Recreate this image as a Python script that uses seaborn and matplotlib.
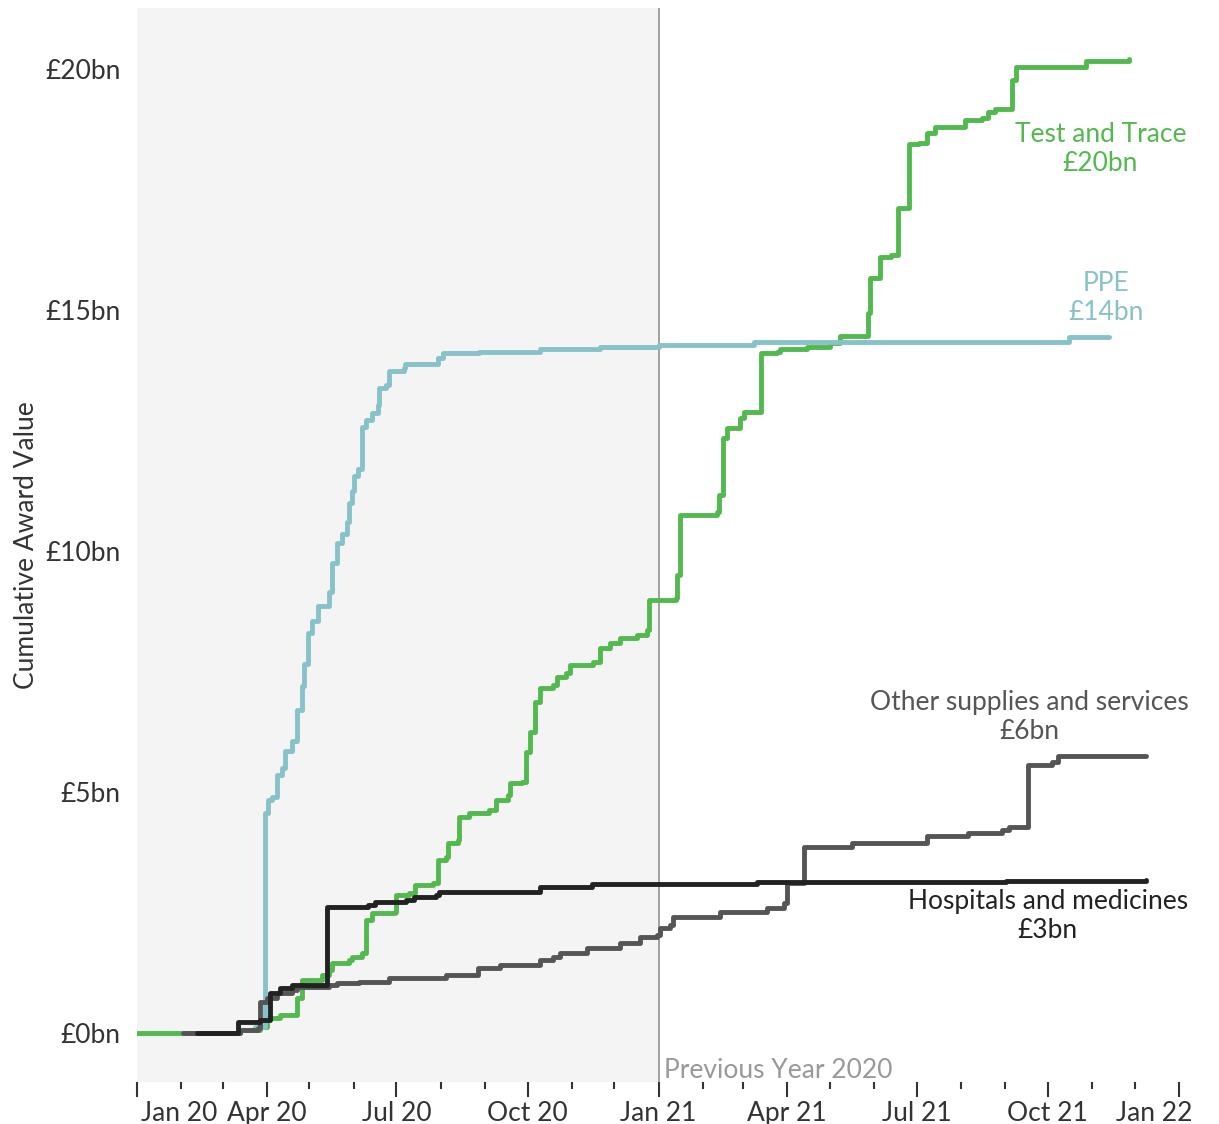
import pandas as pd
import matplotlib
matplotlib.use("Agg")
import matplotlib.pyplot as plt
import matplotlib.dates as mdates
import matplotlib.transforms as mtransforms
import seaborn as sns

# --- datos (fecha de adjudicación, valor acumulado en £bn) ---
tt_dates = ["2020-01-01", "2020-03-13", "2020-03-27", "2020-04-01", "2020-04-10", "2020-04-22",
            "2020-04-26", "2020-05-10", "2020-05-15", "2020-05-17", "2020-05-29", "2020-05-31",
            "2020-06-07", "2020-06-10", "2020-06-14", "2020-06-30", "2020-07-01", "2020-07-10",
            "2020-07-14", "2020-07-27", "2020-07-30", "2020-08-05", "2020-08-06", "2020-08-13",
            "2020-08-14", "2020-08-21", "2020-09-04", "2020-09-09", "2020-09-17", "2020-09-19",
            "2020-09-27", "2020-09-30", "2020-10-03", "2020-10-06", "2020-10-10", "2020-10-19",
            "2020-10-22", "2020-10-28", "2020-10-31", "2020-11-16", "2020-11-21", "2020-11-28",
            "2020-12-05", "2020-12-17", "2020-12-24", "2020-12-25", "2021-01-13", "2021-01-14",
            "2021-01-16", "2021-02-11", "2021-02-12", "2021-02-15", "2021-02-18", "2021-02-27",
            "2021-03-02", "2021-03-14", "2021-03-25", "2021-03-27", "2021-04-15", "2021-05-01",
            "2021-05-08", "2021-05-28", "2021-05-29", "2021-06-05", "2021-06-13", "2021-06-18",
            "2021-06-26", "2021-07-03", "2021-07-08", "2021-07-14", "2021-08-04", "2021-08-16",
            "2021-08-20", "2021-08-25", "2021-09-06", "2021-09-09", "2021-10-28", "2021-11-27"]
tt_values = [0.0, 0.05, 0.12, 0.31, 0.37, 0.73,
             1.10, 1.20, 1.31, 1.45, 1.51, 1.58,
             1.66, 2.34, 2.49, 2.51, 2.86, 2.90,
             3.07, 3.11, 3.59, 3.65, 3.94, 4.00,
             4.48, 4.56, 4.63, 4.83, 4.94, 5.19,
             5.21, 5.83, 6.24, 6.87, 7.16, 7.22,
             7.39, 7.47, 7.63, 7.70, 7.99, 8.09,
             8.20, 8.26, 8.36, 8.98, 9.02, 9.50,
             10.75, 10.81, 11.16, 12.34, 12.55, 12.76,
             12.88, 14.11, 14.13, 14.19, 14.23, 14.32,
             14.46, 14.94, 15.66, 16.10, 16.14, 17.12,
             18.44, 18.46, 18.67, 18.80, 18.94, 18.98,
             19.11, 19.17, 19.77, 20.04, 20.17, 20.21]

ppe_dates = ["2020-02-02", "2020-03-13", "2020-03-24", "2020-03-31", "2020-04-02", "2020-04-05",
             "2020-04-08", "2020-04-12", "2020-04-14", "2020-04-19", "2020-04-22", "2020-04-26",
             "2020-04-27", "2020-04-30", "2020-05-03", "2020-05-07", "2020-05-15", "2020-05-17",
             "2020-05-20", "2020-05-24", "2020-05-27", "2020-05-29", "2020-05-31", "2020-06-01",
             "2020-06-04", "2020-06-07", "2020-06-10", "2020-06-14", "2020-06-18", "2020-06-19",
             "2020-06-24", "2020-06-26", "2020-07-06", "2020-07-07", "2020-07-30", "2020-08-03",
             "2020-08-28", "2020-10-10", "2020-11-21", "2021-01-01", "2021-03-09", "2021-10-16",
             "2021-11-13"]
ppe_values = [0.0, 0.06, 0.12, 4.56, 4.83, 4.90,
              5.35, 5.50, 5.85, 6.05, 6.70, 7.20,
              7.65, 8.30, 8.55, 8.85, 9.15, 9.75,
              10.17, 10.35, 10.60, 11.00, 11.25, 11.55,
              11.70, 12.57, 12.72, 12.86, 13.03, 13.38,
              13.45, 13.73, 13.80, 13.88, 14.00, 14.10,
              14.13, 14.19, 14.23, 14.27, 14.34, 14.44,
              14.44]

hosp_dates = ["2020-02-12", "2020-03-12", "2020-03-27", "2020-04-03", "2020-04-10", "2020-04-19",
              "2020-05-13", "2020-06-11", "2020-06-16", "2020-07-08", "2020-07-13", "2020-07-29",
              "2020-07-31", "2020-10-10", "2020-11-15", "2021-03-11", "2021-09-02", "2021-12-09"]
hosp_values = [0.0, 0.23, 0.27, 0.83, 0.93, 1.00,
               2.61, 2.66, 2.72, 2.76, 2.82, 2.86,
               2.93, 3.03, 3.09, 3.13, 3.15, 3.17]

other_dates = ["2020-02-02", "2020-03-13", "2020-03-26", "2020-03-27", "2020-04-01", "2020-04-08",
               "2020-04-19", "2020-04-22", "2020-05-15", "2020-05-20", "2020-06-05", "2020-06-26",
               "2020-08-05", "2020-08-27", "2020-09-12", "2020-10-10", "2020-10-19", "2020-10-24",
               "2020-11-12", "2020-12-05", "2020-12-19", "2020-12-31", "2021-01-02", "2021-01-09",
               "2021-01-11", "2021-02-13", "2021-03-18", "2021-03-30", "2021-04-01", "2021-04-13",
               "2021-05-17", "2021-07-08", "2021-08-06", "2021-08-30", "2021-09-04", "2021-09-17",
               "2021-10-04", "2021-10-08", "2021-12-09"]
other_values = [0.0, 0.06, 0.10, 0.64, 0.73, 0.83,
                0.89, 0.95, 1.00, 1.04, 1.06, 1.14,
                1.20, 1.35, 1.41, 1.51, 1.58, 1.66,
                1.76, 1.87, 1.99, 2.03, 2.18, 2.24,
                2.41, 2.51, 2.59, 2.70, 3.11, 3.86,
                3.94, 4.09, 4.15, 4.21, 4.27, 5.56,
                5.62, 5.75, 5.75]

series_names = ["Test and Trace", "PPE", "Other supplies and services", "Hospitals and medicines"]
series_labels = ["Test and Trace\n£20bn", "PPE\n£14bn",
                 "Other supplies and services\n£6bn", "Hospitals and medicines\n£3bn"]
label_dates = ["2021-11-07", "2021-11-11", "2021-09-18", "2021-10-01"]
label_values = [18.34, 15.25, 6.56, 2.43]

y_ticks = [0, 5, 10, 15, 20]
y_tick_labels = ["£0bn", "£5bn", "£10bn", "£15bn", "£20bn"]
x_ticks = ["2020-01-01", "2020-04-01", "2020-07-01", "2020-10-01", "2021-01-01",
           "2021-04-01", "2021-07-01", "2021-10-01", "2022-01-01"]
x_tick_labels = ["Jan 20", "Apr 20", "Jul 20", "Oct 20", "Jan 21",
                 "Apr 21", "Jul 21", "Oct 21", "Jan 22"]

colores = {"Test and Trace": "#52B94E", "PPE": "#86C2C8",
           "Other supplies and services": "#555555", "Hospitals and medicines": "#222222"}

# --- tabla larga para seaborn ---
partes = []
for nombre, fechas, valores in [("Test and Trace", tt_dates, tt_values),
                                ("PPE", ppe_dates, ppe_values),
                                ("Other supplies and services", other_dates, other_values),
                                ("Hospitals and medicines", hosp_dates, hosp_values)]:
    partes.append(pd.DataFrame({"serie": nombre, "fecha": pd.to_datetime(fechas), "valor": valores}))
df = pd.concat(partes, ignore_index=True)

# --- estilo ---
sns.set_style("white")
plt.rcParams['font.family'] = ['Lato', 'DejaVu Sans']
FS = 19

fig = plt.figure(figsize=(12.19, 11.24), dpi=100)
ax = fig.add_axes([0.1124, 0.0374, 0.9811 - 0.1124, 0.9555])

# zona sombreada del año anterior
ax.axvspan(pd.Timestamp("2020-01-01"), pd.Timestamp("2021-01-01"), color="#F4F4F4", zorder=0, lw=0)
ax.axvline(pd.Timestamp("2021-01-01"), color="#999999", lw=1.3, zorder=1)

sns.lineplot(data=df, x="fecha", y="valor", hue="serie", hue_order=series_names,
             palette=colores, estimator=None, drawstyle="steps-post", lw=3.5,
             legend=False, ax=ax, zorder=3)

# etiquetas de las series
for nombre, texto, fx, fy in zip(series_names, series_labels, label_dates, label_values):
    ax.text(pd.Timestamp(fx), fy, texto, color=colores[nombre], ha="center", va="center",
            fontsize=FS, linespacing=1.2)

ax.text(pd.Timestamp("2021-01-05"), -0.78, "Previous Year 2020", color="#999999",
        ha="left", va="center", fontsize=FS)

# ejes
ax.set_xlim(pd.Timestamp("2020-01-01"), pd.Timestamp("2022-01-13"))
ax.set_ylim(-1.02, 21.27)
ax.set_yticks(y_ticks)
ax.set_yticklabels(y_tick_labels)
ax.set_xticks(pd.to_datetime(x_ticks))
ax.set_xticklabels(x_tick_labels)
ax.xaxis.set_minor_locator(mdates.MonthLocator())
ax.tick_params(axis="x", which="major", bottom=True, length=11, width=1.5, color="#333333",
               labelsize=FS, labelcolor="#333333", pad=3)
ax.tick_params(axis="x", which="minor", bottom=True, length=5, width=1.5, color="#333333")
ax.tick_params(axis="y", left=False, length=0, labelsize=FS, labelcolor="#333333", pad=12)
ax.set_xlabel("")
ax.set_ylabel("Cumulative Award Value", fontsize=FS, color="#333333", labelpad=4)
for s in ax.spines.values():
    s.set_visible(False)

etiquetas = ax.get_xticklabels()
etiquetas[0].set_ha("left")
etiquetas[0].set_transform(etiquetas[0].get_transform() +
                           mtransforms.ScaledTranslation(4 / 100, 0, fig.dpi_scale_trans))
etiquetas[-1].set_ha("right")
etiquetas[-1].set_transform(etiquetas[-1].get_transform() +
                            mtransforms.ScaledTranslation(14 / 100, 0, fig.dpi_scale_trans))

fig.savefig("out.png", dpi=100)
